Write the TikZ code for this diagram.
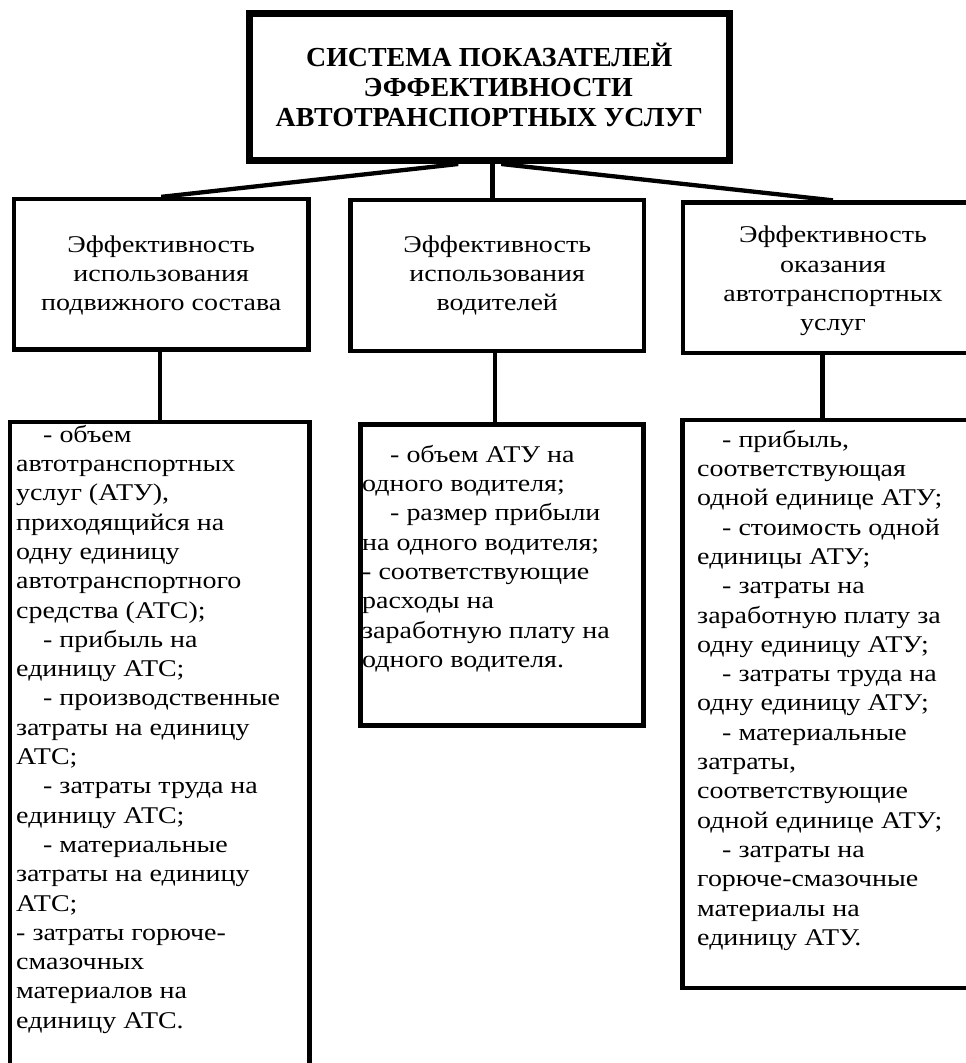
\documentclass[tikz,border=0pt]{standalone}
\usepackage{fontspec}
\setmainfont{Liberation Serif}[FakeStretch=1.165]
\newfontfamily\titlefont{Liberation Serif}[FakeStretch=1.015]
\tikzset{
  boxbase/.style={draw=black, line width=4.3pt, inner sep=0pt, rectangle},
  topbox/.style={boxbase, line width=7pt},
  body/.style={font=\fontsize{24}{29.3}\selectfont, inner sep=0pt},
  midtext/.style={body, align=center},
  listtext/.style={body, align=left, anchor=north west},
  conn/.style={draw=black, line width=4.3pt},
}
\newcommand{\ind}{\hspace*{27pt}}
\newcommand{\fst}{\rule{0pt}{20pt}}
\begin{document}
\begin{tikzpicture}[x=1pt,y=-1pt]
\useasboundingbox[fill=white] (0,0) rectangle (966,1063);

% boxes
\node[topbox, minimum width=480.5pt, minimum height=147.5pt] (top) at (489.25,86.75) {};
\node[boxbase, minimum width=294.5pt, minimum height=150.5pt, midtext] (m1) at (161.25,274.25)
  {\rule{0pt}{19.2pt}Эффективность\\использования\\подвижного состава};
\node[boxbase, minimum width=293.5pt, minimum height=151pt, midtext] (m2) at (497.25,275.5)
  {Эффективность\\использования\\водителей};
\node[boxbase, minimum width=300pt, minimum height=150.5pt, midtext] (m3) at (833,277.75)
  {\rule{0pt}{23.4pt}Эффективность\\оказания\\автотранспортных\\услуг};
\node[boxbase, minimum width=299.5pt, minimum height=658pt] (b1) at (159.75,751) {};
\node[boxbase, minimum width=283pt, minimum height=301pt] (b2) at (502,575) {};
\node[boxbase, minimum width=302.5pt, minimum height=568pt] (b3) at (833.75,704) {};

% title
\node[font=\fontsize{27.5}{30}\titlefont\bfseries, align=center, inner sep=0pt, anchor=north] (title) at (489.25,43)
  {\fst СИСТЕМА ПОКАЗАТЕЛЕЙ\\\hspace*{18pt}ЭФФЕКТИВНОСТИ\\АВТОТРАНСПОРТНЫХ УСЛУГ};

% list texts
\node[listtext] (t1) at (16,422) {%
\fst\ind- объем\\
автотранспортных\\
услуг (АТУ),\\
приходящийся на\\
одну единицу\\
автотранспортного\\
средства (АТС);\\
\ind- прибыль на\\
единицу АТС;\\
\ind- производственные\\
затраты на единицу\\
АТС;\\
\ind- затраты труда на\\
единицу АТС;\\
\ind- материальные\\
затраты на единицу\\
АТС;\\
- затраты горюче-\\
смазочных\\
материалов на\\
единицу АТС.};

\node[listtext] (t2) at (362,442) {%
\fst\hspace*{28pt}- объем АТУ на\\
одного водителя;\\
\hspace*{28pt}- размер прибыли\\
на одного водителя;\\
- соответствующие\\
расходы на\\
заработную плату на\\
одного водителя.};

\node[listtext] (t3) at (697,427) {%
\fst\hspace*{25pt}- прибыль,\\
соответствующая\\
одной единице АТУ;\\
\hspace*{25pt}- стоимость одной\\
единицы АТУ;\\
\hspace*{25pt}- затраты на\\
заработную плату за\\
одну единицу АТУ;\\
\hspace*{25pt}- затраты труда на\\
одну единицу АТУ;\\
\hspace*{25pt}- материальные\\
затраты,\\
соответствующие\\
одной единице АТУ;\\
\hspace*{25pt}- затраты на\\
горюче-смазочные\\
материалы на\\
единицу АТУ.};

% connectors
\draw[conn] ([xshift=3.25pt]top.south) -- ([xshift=-4.75pt]m2.north);
\draw[conn] ([xshift=-31pt]top.south) -- (m1.north);
\draw[conn] ([xshift=12pt]top.south) -- (m3.north);
\draw[conn] ([xshift=-1pt]m1.south) -- ([xshift=-1pt]m1.south |- b1.north);
\draw[conn] ([xshift=-2.25pt]m2.south) -- ([xshift=-2.25pt]m2.south |- b2.north);
\draw[conn] ([xshift=-10.5pt]m3.south) -- ([xshift=-10.5pt]m3.south |- b3.north);
\end{tikzpicture}
\end{document}
